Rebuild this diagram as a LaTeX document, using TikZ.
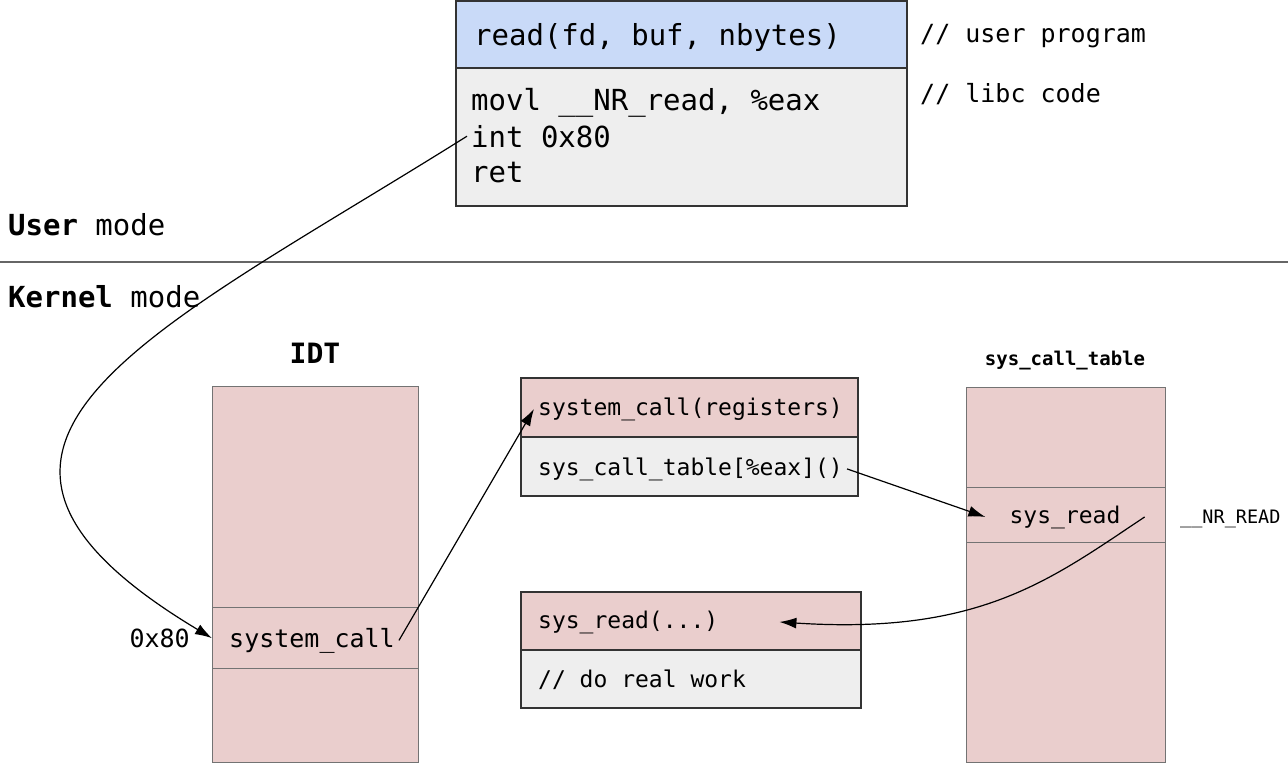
\documentclass[tikz,border=0pt]{standalone}
\usepackage{fontspec}
\usetikzlibrary{arrows.meta,positioning}
\newfontfamily\mono{DejaVu Sans Mono}
\newcommand{\fsz}[1]{\fontsize{#1}{#1}\selectfont}
\definecolor{userblue}{RGB}{201,218,248}
\definecolor{codegray}{RGB}{238,238,238}
\definecolor{kpink}{RGB}{234,206,205}

\begin{document}
\begin{tikzpicture}[x=1pt,y=-1pt,
    box/.style={draw=black!80, line width=1.3pt},
    tbl/.style={draw=black!55, fill=kpink, line width=1.3pt, inner sep=0pt},
    txt/.style={anchor=base west, inner xsep=4pt, inner ysep=0pt, font=\mono\fsz{#1}},
    arr/.style={-{Latex[length=17pt,width=11pt]}, line width=1.2pt}]
    \useasboundingbox (0,0) rectangle (1288,764);

    % user program
    \filldraw[box,fill=userblue] (456,1) rectangle (907,68);
    \filldraw[box,fill=codegray] (456,68) rectangle (907,206);
    \node[txt=29] (rd) at (470,45) {read(fd, buf, nbytes)};
    \node[txt=29] (movl) at (467,110) {movl \_\_NR\_read, \%eax};
    \node[txt=29] (int) at (467,147) {int 0x80};
    \node[txt=29] (ret) at (467,182) {ret};
    \node[txt=25] (cuser) at (916,42) {// user program};
    \node[txt=25] (clibc) at (916,102) {// libc code};

    % modes
    \draw[black!60, line width=1.3pt] (0,262) -- (1288,262);
    \node[txt=29, inner xsep=0pt] (umode) at (8,235) {\bfseries User\mdseries{} mode};
    \node[txt=29, inner xsep=0pt] (kmode) at (8,307) {\bfseries Kernel\mdseries{} mode};

    % IDT
    \node[font=\mono\bfseries\fsz{28}, anchor=base] (idtlbl) at (315,363) {IDT};
    \node[tbl, minimum width=206, minimum height=376, anchor=north west] (idt) at (212,386) {};
    \node[tbl, minimum width=206, minimum height=61, anchor=north west] (idtsc) at (212,607) {};
    \node[txt=25] (scall) at (225,647) {system\_call};
    \node[font=\mono\fsz{25}, anchor=base east, inner sep=0pt] (ox) at (190,647) {0x80};

    % system_call
    \filldraw[box,fill=kpink] (521,378) rectangle (858,437);
    \filldraw[box,fill=codegray] (521,437) rectangle (858,496);
    \node[txt=23] (reg) at (534,415) {system\_call(registers)};
    \node[txt=23] (tcall) at (534,475) {sys\_call\_table[\%eax]()};

    % sys_read
    \filldraw[box,fill=kpink] (521,592) rectangle (861,650);
    \filldraw[box,fill=codegray] (521,650) rectangle (861,708);
    \node[txt=23] (sread) at (534,628) {sys\_read(...)};
    \node[txt=23] (work) at (534,687) {// do real work};
    \coordinate (rdin) at ([xshift=57]sread.east);

    % sys_call_table
    \node[font=\mono\bfseries\fsz{19}, anchor=base] (sctlbl) at (1065,365) {sys\_call\_table};
    \node[tbl, minimum width=199, minimum height=375, anchor=north west] (sct) at (966,387) {};
    \node[tbl, minimum width=199, minimum height=55, anchor=north west] (sctrd) at (966,487) {};
    \node[font=\mono\fsz{23}, anchor=base, inner xsep=24pt, inner ysep=0pt] (sysr) at (1065,523) {sys\_read};
    \node[txt=18.5] (nr) at (1176,523) {\_\_NR\_READ};

    % arrows
    \draw[arr] (int.west) .. controls (150,335) and (-110,445) .. (idtsc.west);
    \draw[arr] (scall.east) -- (reg.west);
    \draw[arr] (tcall.east) -- (sysr.west);
    \draw[arr] (sysr.east) .. controls (1050,580) and (980,635) .. (rdin);
\end{tikzpicture}
\end{document}
